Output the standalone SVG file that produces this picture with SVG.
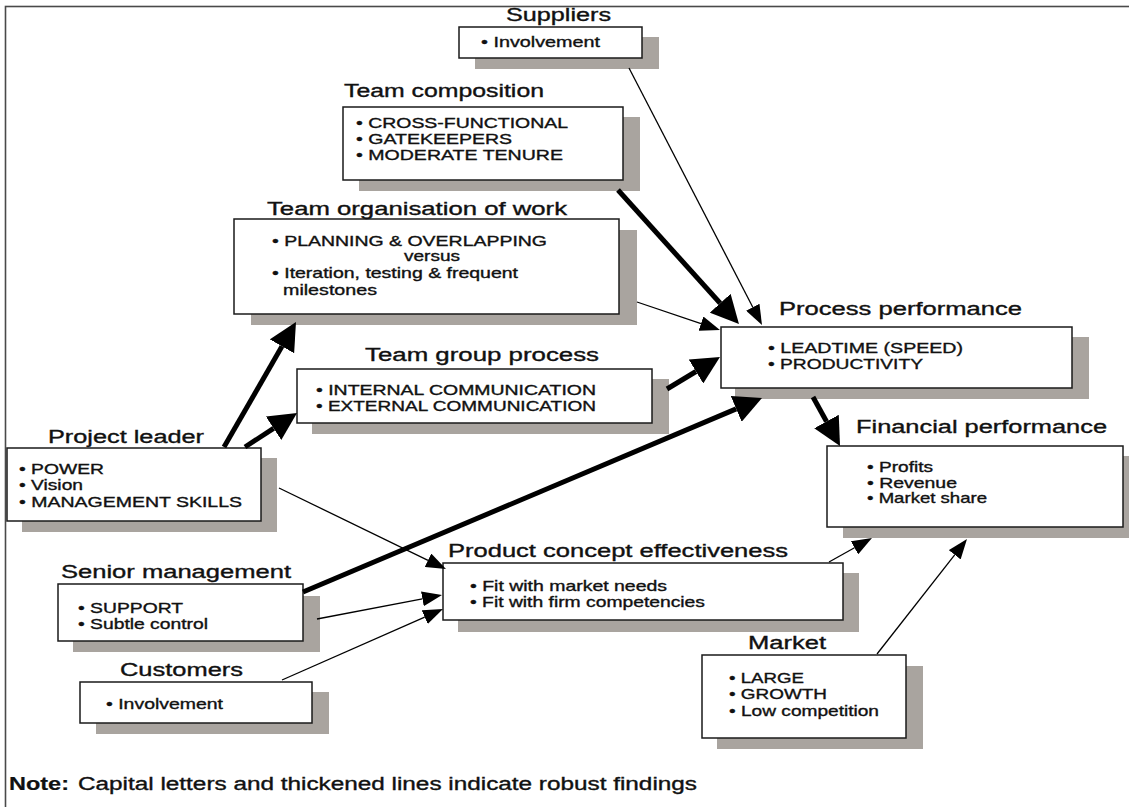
<svg xmlns="http://www.w3.org/2000/svg" width="1129" height="807" viewBox="0 0 1129 807">
  <style>
    .frame { fill: none; stroke: #4a4a4a; stroke-width: 1.6; }
    .shadow { fill: #a9a49f; }
    .box { fill: #ffffff; stroke: #1a1a1a; stroke-width: 1.5; }
    text { font-family: "Liberation Sans", Arial, sans-serif; fill: #111111; stroke: #111111; stroke-width: 0.35; }
    .title { font-size: 18px; }
    .item { font-size: 14.5px; }
    .note { font-size: 18px; }
    .bold { font-weight: bold; stroke-width: 0.2; }
    .thick { stroke: #000000; stroke-width: 5; fill: none; marker-end: url(#headThick); }
    .thin { stroke: #000000; stroke-width: 1.3; fill: none; marker-end: url(#headThin); }
  </style>
  <defs>
    <marker id="headThick" markerUnits="userSpaceOnUse" orient="auto" markerWidth="28" markerHeight="28" refX="0" refY="14">
      <path d="M0,0 L28,14 L0,28 Z" fill="#000000"/>
    </marker>
    <marker id="headThin" markerUnits="userSpaceOnUse" orient="auto" markerWidth="20" markerHeight="15" refX="0" refY="7.5">
      <path d="M0,0 L20,7.5 L0,15 Z" fill="#000000"/>
    </marker>
  </defs>

  <rect width="1129" height="807" fill="#ffffff"/>
  <!-- outer frame (right and bottom edges run past the page) -->
  <rect class="frame" x="5.5" y="6.5" width="1200" height="900"/>

  <g id="suppliers">
    <rect class="shadow" x="475" y="37" width="184" height="32"/>
    <rect class="box" x="459" y="27" width="183" height="31"/>
    <text class="title" x="506" y="21" textLength="105" lengthAdjust="spacingAndGlyphs">Suppliers</text>
    <text class="item" x="481" y="47" textLength="119" lengthAdjust="spacingAndGlyphs">• Involvement</text>
  </g>

  <g id="team-composition">
    <rect class="shadow" x="359" y="117" width="281" height="74"/>
    <rect class="box" x="343" y="107" width="280" height="73"/>
    <text class="title" x="344" y="97" textLength="200" lengthAdjust="spacingAndGlyphs">Team composition</text>
    <text class="item" x="356" y="128" textLength="212" lengthAdjust="spacingAndGlyphs">• CROSS-FUNCTIONAL</text>
    <text class="item" x="356" y="144" textLength="156" lengthAdjust="spacingAndGlyphs">• GATEKEEPERS</text>
    <text class="item" x="356" y="160" textLength="207" lengthAdjust="spacingAndGlyphs">• MODERATE TENURE</text>
  </g>

  <g id="team-organisation">
    <rect class="shadow" x="251" y="230" width="386" height="95"/>
    <rect class="box" x="234" y="219" width="385" height="95"/>
    <text class="title" x="267" y="215" textLength="300" lengthAdjust="spacingAndGlyphs">Team organisation of work</text>
    <text class="item" x="272" y="246" textLength="275" lengthAdjust="spacingAndGlyphs">• PLANNING &amp; OVERLAPPING</text>
    <text class="item" x="404" y="261" textLength="56" lengthAdjust="spacingAndGlyphs">versus</text>
    <text class="item" x="272" y="278" textLength="246" lengthAdjust="spacingAndGlyphs">• Iteration, testing &amp; frequent</text>
    <text class="item" x="283" y="294.5" textLength="94" lengthAdjust="spacingAndGlyphs">milestones</text>
  </g>

  <g id="team-group-process">
    <rect class="shadow" x="312" y="379" width="357" height="55"/>
    <rect class="box" x="297" y="369" width="355" height="54"/>
    <text class="title" x="365" y="361" textLength="234" lengthAdjust="spacingAndGlyphs">Team group process</text>
    <text class="item" x="316" y="395" textLength="280" lengthAdjust="spacingAndGlyphs">• INTERNAL COMMUNICATION</text>
    <text class="item" x="316" y="411" textLength="280" lengthAdjust="spacingAndGlyphs">• EXTERNAL COMMUNICATION</text>
  </g>

  <g id="project-leader">
    <rect class="shadow" x="22" y="458" width="255" height="74"/>
    <rect class="box" x="7" y="448" width="254" height="73"/>
    <text class="title" x="48" y="443" textLength="156" lengthAdjust="spacingAndGlyphs">Project leader</text>
    <text class="item" x="19" y="474" textLength="85" lengthAdjust="spacingAndGlyphs">• POWER</text>
    <text class="item" x="19" y="490" textLength="64" lengthAdjust="spacingAndGlyphs">• Vision</text>
    <text class="item" x="19" y="507" textLength="223" lengthAdjust="spacingAndGlyphs">• MANAGEMENT SKILLS</text>
  </g>

  <g id="senior-management">
    <rect class="shadow" x="73" y="596" width="247" height="56"/>
    <rect class="box" x="58" y="584" width="245" height="57"/>
    <text class="title" x="61" y="578" textLength="230" lengthAdjust="spacingAndGlyphs">Senior management</text>
    <text class="item" x="78" y="613" textLength="105" lengthAdjust="spacingAndGlyphs">• SUPPORT</text>
    <text class="item" x="78" y="629" textLength="130" lengthAdjust="spacingAndGlyphs">• Subtle control</text>
  </g>

  <g id="customers">
    <rect class="shadow" x="96" y="692" width="233" height="42"/>
    <rect class="box" x="80" y="682" width="232" height="41"/>
    <text class="title" x="120" y="676" textLength="123" lengthAdjust="spacingAndGlyphs">Customers</text>
    <text class="item" x="106" y="709" textLength="117" lengthAdjust="spacingAndGlyphs">• Involvement</text>
  </g>

  <g id="product-concept">
    <rect class="shadow" x="458" y="573" width="401" height="59"/>
    <rect class="box" x="443" y="563" width="400" height="57"/>
    <text class="title" x="448" y="557" textLength="340" lengthAdjust="spacingAndGlyphs">Product concept effectiveness</text>
    <text class="item" x="470" y="591" textLength="197" lengthAdjust="spacingAndGlyphs">• Fit with market needs</text>
    <text class="item" x="470" y="607" textLength="235" lengthAdjust="spacingAndGlyphs">• Fit with firm competencies</text>
  </g>

  <g id="market">
    <rect class="shadow" x="717" y="666" width="206" height="83"/>
    <rect class="box" x="702" y="655" width="204" height="83"/>
    <text class="title" x="748" y="649" textLength="78" lengthAdjust="spacingAndGlyphs">Market</text>
    <text class="item" x="729" y="683" textLength="75" lengthAdjust="spacingAndGlyphs">• LARGE</text>
    <text class="item" x="729" y="699" textLength="98" lengthAdjust="spacingAndGlyphs">• GROWTH</text>
    <text class="item" x="729" y="716" textLength="150" lengthAdjust="spacingAndGlyphs">• Low competition</text>
  </g>

  <g id="process-performance">
    <rect class="shadow" x="735" y="337" width="354" height="62"/>
    <rect class="box" x="721" y="327" width="351" height="61"/>
    <text class="title" x="779" y="315" textLength="243" lengthAdjust="spacingAndGlyphs">Process performance</text>
    <text class="item" x="768" y="353" textLength="195" lengthAdjust="spacingAndGlyphs">• LEADTIME (SPEED)</text>
    <text class="item" x="768" y="369" textLength="155" lengthAdjust="spacingAndGlyphs">• PRODUCTIVITY</text>
  </g>

  <g id="financial-performance">
    <rect class="shadow" x="843" y="456" width="297" height="82"/>
    <rect class="box" x="827" y="446" width="296" height="81"/>
    <text class="title" x="856" y="433" textLength="251" lengthAdjust="spacingAndGlyphs">Financial performance</text>
    <text class="item" x="867" y="472" textLength="66" lengthAdjust="spacingAndGlyphs">• Profits</text>
    <text class="item" x="867" y="488" textLength="90" lengthAdjust="spacingAndGlyphs">• Revenue</text>
    <text class="item" x="867" y="503" textLength="120" lengthAdjust="spacingAndGlyphs">• Market share</text>
  </g>

  <g id="connectors">
    <!-- each line stops at the base of its arrowhead; the marker supplies the tip -->
    <line class="thin" x1="629" y1="68" x2="752.8" y2="307.2"/>
    <line class="thick" x1="618" y1="190" x2="720.2" y2="303.2"/>
    <line class="thin" x1="637" y1="302" x2="701" y2="323.6"/>
    <line class="thick" x1="667" y1="389" x2="696" y2="371.5"/>
    <line class="thick" x1="303" y1="592" x2="736.2" y2="408.9"/>
    <line class="thick" x1="224" y1="447" x2="282" y2="346.3"/>
    <line class="thick" x1="245" y1="447" x2="273.6" y2="428.3"/>
    <line class="thin" x1="279" y1="488" x2="428" y2="560.3"/>
    <line class="thin" x1="317" y1="619" x2="422.4" y2="598.8"/>
    <line class="thin" x1="282" y1="680" x2="424.7" y2="617.1"/>
    <line class="thick" x1="813" y1="397" x2="826.5" y2="421.5"/>
    <line class="thin" x1="829" y1="562" x2="854.5" y2="547.8"/>
    <line class="thin" x1="877" y1="654" x2="954.7" y2="554.8"/>
  </g>

  <g id="note">
    <text class="note bold" x="9" y="790" textLength="60" lengthAdjust="spacingAndGlyphs">Note:</text>
    <text class="note" x="78" y="790" textLength="619" lengthAdjust="spacingAndGlyphs">Capital letters and thickened lines indicate robust findings</text>
  </g>
</svg>
